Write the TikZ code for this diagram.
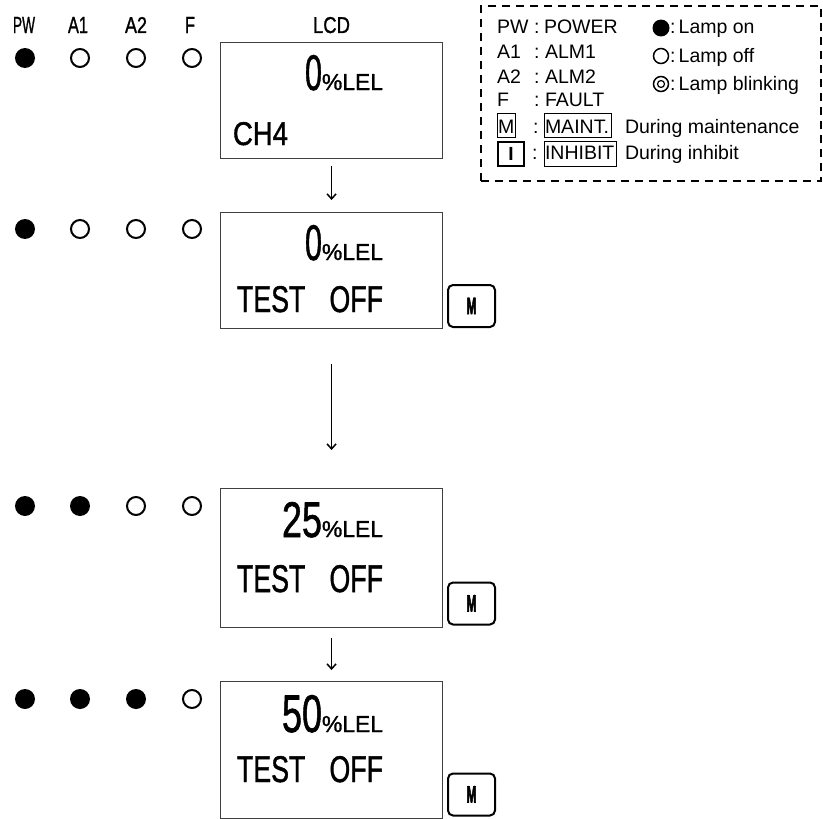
\documentclass[tikz,border=0pt]{standalone}
\usepackage{fontspec}
\setmainfont{Liberation Sans}
\newfontfamily\lcdfont[FakeBold=1.3]{Liberation Sans}
\newfontfamily\btnfont[FakeBold=4]{Liberation Sans Bold}
\usepackage{graphicx}
\usetikzlibrary{arrows.meta}
\newcommand{\fitbox}[3]{\resizebox{#1pt}{#2pt}{\lcdfont #3}}
\newcommand{\btnM}{\resizebox{10pt}{16pt}{\btnfont M}}
\begin{document}
\begin{tikzpicture}[x=1pt,y=-1pt,
  lcdbox/.style={draw=black!75, line width=1.1pt, minimum width=222pt, minimum height=116pt, anchor=north west, inner sep=0pt},
  txt/.style={anchor=base west, inner sep=0pt, outer sep=0pt},
  mbtn/.style={draw, line width=2pt, rounded corners=5pt, minimum width=47pt, minimum height=42pt, inner sep=0pt},
  lampon/.style={circle, fill=black, minimum size=20pt, inner sep=0pt},
  lampoff/.style={circle, draw, line width=2pt, minimum size=18pt, inner sep=0pt},
  flow/.style={line width=1.5pt, -{Straight Barb[length=5pt,width=9pt]}},
  legtxt/.style={anchor=base west, inner sep=0pt, outer sep=0pt, font=\fontsize{19.5}{22}\selectfont},
  legbox/.style={draw, line width=1pt, inner sep=0pt, anchor=north west},
]
\useasboundingbox (0,0) rectangle (823,819);
\fill[white] (0,0) rectangle (823,819);

% column headers
\node[txt] (hPW) at (13,33) {\fitbox{22}{16}{PW}};
\node[txt] (hA1) at (68,33) {\fitbox{20}{16}{A1}};
\node[txt] (hA2) at (125,33) {\fitbox{22}{16}{A2}};
\node[txt] (hF) at (185,33) {\fitbox{10}{16}{F}};
\node[txt] (hLCD) at (313,33) {\fitbox{37}{16}{LCD}};

% LCD boxes
\node[lcdbox] (b1) at (220,42) {};
\node[lcdbox] (b2) at (220,212) {};
\node[lcdbox, minimum height=139pt] (b3) at (220,488) {};
\node[lcdbox, minimum height=137pt] (b4) at (220,681) {};

% LCD texts
\node[txt] (v1) at (305,90) {\fitbox{17}{35}{0}\fitbox{61}{16}{\%LEL}};
\node[txt] (c1) at (233,145) {\fitbox{55}{23}{CH4}};
\node[txt] (v2) at (305,260) {\fitbox{17}{35}{0}\fitbox{61}{16}{\%LEL}};
\node[txt] (t2) at (237,312) {\fitbox{146}{26}{TEST\hspace{0.9em}OFF}};
\node[txt] (v3) at (282,537) {\fitbox{40}{35}{25}\fitbox{61}{16}{\%LEL}};
\node[txt] (t3) at (237,592) {\fitbox{146}{27}{TEST\hspace{0.9em}OFF}};
\node[txt] (v4) at (282,732) {\fitbox{40}{37}{50}\fitbox{61}{16}{\%LEL}};
\node[txt] (t4) at (237,782) {\fitbox{146}{26}{TEST\hspace{0.9em}OFF}};

% M buttons
\node[mbtn] (m2) at (471.5,306) {\btnM};
\node[mbtn] (m3) at (471.5,603.5) {\btnM};
\node[mbtn] (m4) at (471.5,794.5) {\btnM};

% lamps
\node[lampon]  (r1pw) at (25,58) {};
\node[lampoff] (r1a1) at (80,58) {};
\node[lampoff] (r1a2) at (136,58) {};
\node[lampoff] (r1f)  at (192,58) {};

\node[lampon]  (r2pw) at (25,229) {};
\node[lampoff] (r2a1) at (80,229) {};
\node[lampoff] (r2a2) at (136,229) {};
\node[lampoff] (r2f)  at (192,229) {};

\node[lampon]  (r3pw) at (25,506) {};
\node[lampon]  (r3a1) at (80,506) {};
\node[lampoff] (r3a2) at (136,506) {};
\node[lampoff] (r3f)  at (192,506) {};

\node[lampon]  (r4pw) at (25,699) {};
\node[lampon]  (r4a1) at (80,699) {};
\node[lampon]  (r4a2) at (136,699) {};
\node[lampoff] (r4f)  at (192,699) {};

% arrows
\draw[flow] ([yshift=-7pt]b1.south) -- ([yshift=12pt]b2.north);
\draw[flow] ([yshift=-35pt]b2.south) -- ([yshift=38pt]b3.north);
\draw[flow] ([yshift=-10pt]b3.south) -- ([yshift=11pt]b4.north);

% legend
\node[draw, line width=2pt, dash pattern=on 8pt off 6pt, minimum width=340pt, minimum height=175pt, anchor=north west, inner sep=0pt] (leg) at (480,5) {};

\node[legtxt] (lPW) at (497,33) {PW};
\node[legtxt] (lPWc) at (534,33) {:};
\node[legtxt] (lPWt) at (544,33) {POWER};
\node[legtxt] (lA1) at (497,58) {A1};
\node[legtxt] (lA1c) at (534,58) {:};
\node[legtxt] (lA1t) at (545,58) {ALM1};
\node[legtxt] (lA2) at (497,83) {A2};
\node[legtxt] (lA2c) at (534,83) {:};
\node[legtxt] (lA2t) at (545,83) {ALM2};
\node[legtxt] (lF) at (497,106) {F};
\node[legtxt] (lFc) at (534,106) {:};
\node[legtxt] (lFt) at (545,106) {FAULT};

\node[legbox, minimum width=18pt, minimum height=24pt] (lMb) at (497,113) {};
\node[legtxt] (lM) at (498,133) {M};
\node[legtxt] (lMc) at (533,133) {:};
\node[legbox, minimum width=67pt, minimum height=24pt] (lMAb) at (543.5,113) {};
\node[legtxt] (lMA) at (545,133) {MAINT.};
\node[legtxt] (lMd) at (625,133) {During maintenance};

\node[legbox, line width=2pt, minimum width=26pt, minimum height=24pt] (lIb) at (497,141) {};
\node[anchor=center, inner sep=0pt, font=\fontsize{19}{22}\selectfont\bfseries] (lI) at (lIb.center) {I};
\node[legtxt] (lIc) at (532,159) {:};
\node[legbox, minimum width=72pt, minimum height=25pt] (lINb) at (543.5,141) {};
\node[legtxt] (lIN) at (545,159) {INHIBIT};
\node[legtxt] (lId) at (625,159) {During inhibit};

\node[circle, fill=black, minimum size=17pt, inner sep=0pt] (son) at (661,28) {};
\node[legtxt] (ton) at (670,34) {:\,Lamp on};
\node[circle, draw, line width=1.5pt, minimum size=15pt, inner sep=0pt] (soff) at (661,56) {};
\node[legtxt] (toff) at (670,62) {:\,Lamp off};
\node[circle, draw, line width=1.5pt, minimum size=15pt, inner sep=0pt] (sbl) at (661,84) {};
\node[circle, draw, line width=1.2pt, minimum size=7pt, inner sep=0pt] (sbl2) at (sbl.center) {};
\node[legtxt] (tbl) at (670,90) {:\,Lamp blinking};
\end{tikzpicture}
\end{document}
